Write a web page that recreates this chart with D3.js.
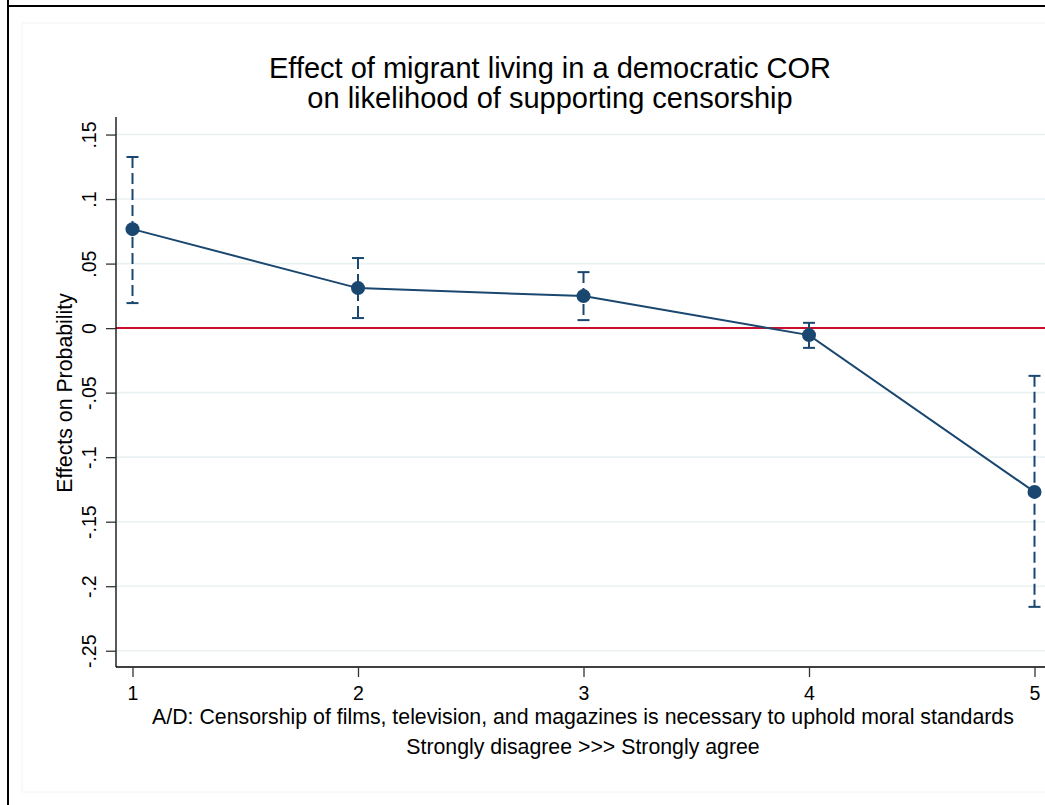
<!DOCTYPE html>
<html>
<head>
<meta charset="utf-8">
<script src="https://cdn.jsdelivr.net/npm/d3@7"></script>
<style>
  html, body { margin: 0; padding: 0; background: #fff; }
  svg { display: block; }
  svg text { font-family: "Liberation Sans", Arial, Helvetica, sans-serif; }
</style>
</head>
<body>
<svg id="chart" width="1045" height="805"></svg>
<script>
// Response categories (1 = strongly disagree ... 5 = strongly agree)
const categories = [1, 2, 3, 4, 5];
// Estimated effect on probability and its confidence bounds
const effects  = [0.0767, 0.0310, 0.0248, -0.0054, -0.1269];
const ciUpper  = [0.1326, 0.0543, 0.0434, 0.0041, -0.0370];
const ciLower  = [0.0194, 0.0078, 0.0062, -0.0153, -0.2160];
// Axis tick values and their labels
const yTicks = [0.15, 0.1, 0.05, 0, -0.05, -0.1, -0.15, -0.2, -0.25];
const yTickLabels = [".15", ".1", ".05", "0", "-.05", "-.1", "-.15", "-.2", "-.25"];
const xTickLabels = ["1", "2", "3", "4", "5"];

const titleLines = ["Effect of migrant living in a democratic COR",
                    "on likelihood of supporting censorship"];
const xTitleLines = ["A/D: Censorship of films, television, and magazines is necessary to uphold moral standards",
                     "Strongly disagree >>> Strongly agree"];
const yTitle = "Effects on Probability";

const navy = "#1a476f";
const zeroRed = "#c8102e";
const gridCol = "#eaf1f3";
const FONT = "Liberation Sans, Arial, Helvetica, sans-serif";
const TICK_FS = 19.5;

const svg = d3.select("#chart");
const W = 1045, H = 805;

// Plot region
const plotLeft = 116, plotRight = 1050, plotTop = 117, plotBottom = 667;

const x = d3.scaleLinear().domain([1, 5]).range([132.5, 1034.5]);
const y = d3.scaleLinear().domain([-0.2626, 0.1636]).range([plotBottom, plotTop]);

// Outer frame and faint inner graph region
svg.append("rect").attr("x", 22).attr("y", 23).attr("width", W).attr("height", 769)
  .attr("fill", "none").attr("stroke", "#f2f4f6").attr("stroke-width", 1);
svg.append("line").attr("x1", 8).attr("x2", 8).attr("y1", 0).attr("y2", H)
  .attr("stroke", "#000").attr("stroke-width", 2);
svg.append("line").attr("x1", 7).attr("x2", W).attr("y1", 6).attr("y2", 6)
  .attr("stroke", "#000").attr("stroke-width", 2);

// Gridlines
svg.append("g").selectAll("line").data(yTicks.filter(v => v !== 0)).join("line")
  .attr("x1", plotLeft).attr("x2", plotRight)
  .attr("y1", d => y(d)).attr("y2", d => y(d))
  .attr("stroke", gridCol).attr("stroke-width", 1.6);

// Zero reference line
svg.append("line")
  .attr("x1", plotLeft).attr("x2", plotRight)
  .attr("y1", y(0)).attr("y2", y(0))
  .attr("stroke", zeroRed).attr("stroke-width", 2);

// Y axis
const yAxis = d3.axisLeft(y).tickValues(yTicks).tickSize(10)
  .tickFormat((d, i) => yTickLabels[i]);
const gy = svg.append("g").attr("transform", `translate(${plotLeft},0)`).call(yAxis);
gy.select(".domain").attr("stroke", "#000").attr("stroke-width", 1.3)
  .attr("d", `M0,${plotTop}V${plotBottom}`);
gy.selectAll(".tick line").attr("stroke", "#333").attr("stroke-width", 1.3);
gy.selectAll(".tick text")
  .attr("x", null).attr("dy", null)
  .attr("transform", "translate(-20,0) rotate(-90)")
  .attr("text-anchor", "middle").attr("fill", "#000")
  .style("font-family", FONT).style("font-size", TICK_FS + "px");

// X axis
const xAxis = d3.axisBottom(x).tickValues(categories).tickSize(10)
  .tickFormat((d, i) => xTickLabels[i]);
const gx = svg.append("g").attr("transform", `translate(0,${plotBottom})`).call(xAxis);
gx.select(".domain").attr("stroke", "#000").attr("stroke-width", 1.3)
  .attr("d", `M${plotLeft},0H${plotRight}`);
gx.selectAll(".tick line").attr("stroke", "#333").attr("stroke-width", 1.3);
gx.selectAll(".tick text").attr("y", 33).attr("dy", null).attr("fill", "#000")
  .style("font-family", FONT).style("font-size", TICK_FS + "px");

// Titles
svg.append("g").selectAll("text").data(titleLines).join("text")
  .attr("x", 550).attr("y", (d, i) => 78 + i * 30)
  .attr("text-anchor", "middle").style("font-size", "29px").attr("fill", "#000")
  .text(d => d);

const xMid = (plotLeft + plotRight) / 2;
svg.append("g").selectAll("text").data(xTitleLines).join("text")
  .attr("x", xMid).attr("y", (d, i) => 724 + i * 30)
  .attr("text-anchor", "middle").style("font-size", "21.3px").attr("fill", "#000")
  .text(d => d);

svg.append("text")
  .attr("transform", `translate(72,${(plotTop + plotBottom) / 2 + 1}) rotate(-90)`)
  .attr("text-anchor", "middle").style("font-size", "21.3px").attr("fill", "#000")
  .text(yTitle);

// Confidence intervals: dashed spikes with caps
const rows = categories.map((c, i) => ({ c, est: effects[i], lo: ciLower[i], hi: ciUpper[i] }));
const ci = svg.append("g");
ci.selectAll("line.spike").data(rows).join("line").attr("class", "spike")
  .attr("x1", d => x(d.c)).attr("x2", d => x(d.c))
  .attr("y1", d => y(d.hi)).attr("y2", d => y(d.lo))
  .attr("stroke", navy).attr("stroke-width", 2).attr("stroke-dasharray", "11,5");
["hi", "lo"].forEach(k => {
  ci.selectAll(`line.cap-${k}`).data(rows).join("line").attr("class", `cap-${k}`)
    .attr("x1", d => x(d.c) - 6).attr("x2", d => x(d.c) + 6)
    .attr("y1", d => y(d[k])).attr("y2", d => y(d[k]))
    .attr("stroke", navy).attr("stroke-width", 2);
});

// Point estimates connected by a line
svg.append("path").datum(rows)
  .attr("d", d3.line().x(d => x(d.c)).y(d => y(d.est)))
  .attr("fill", "none").attr("stroke", navy).attr("stroke-width", 2);
svg.append("g").selectAll("circle").data(rows).join("circle")
  .attr("cx", d => x(d.c)).attr("cy", d => y(d.est)).attr("r", 7)
  .attr("fill", navy);
</script>
</body>
</html>
